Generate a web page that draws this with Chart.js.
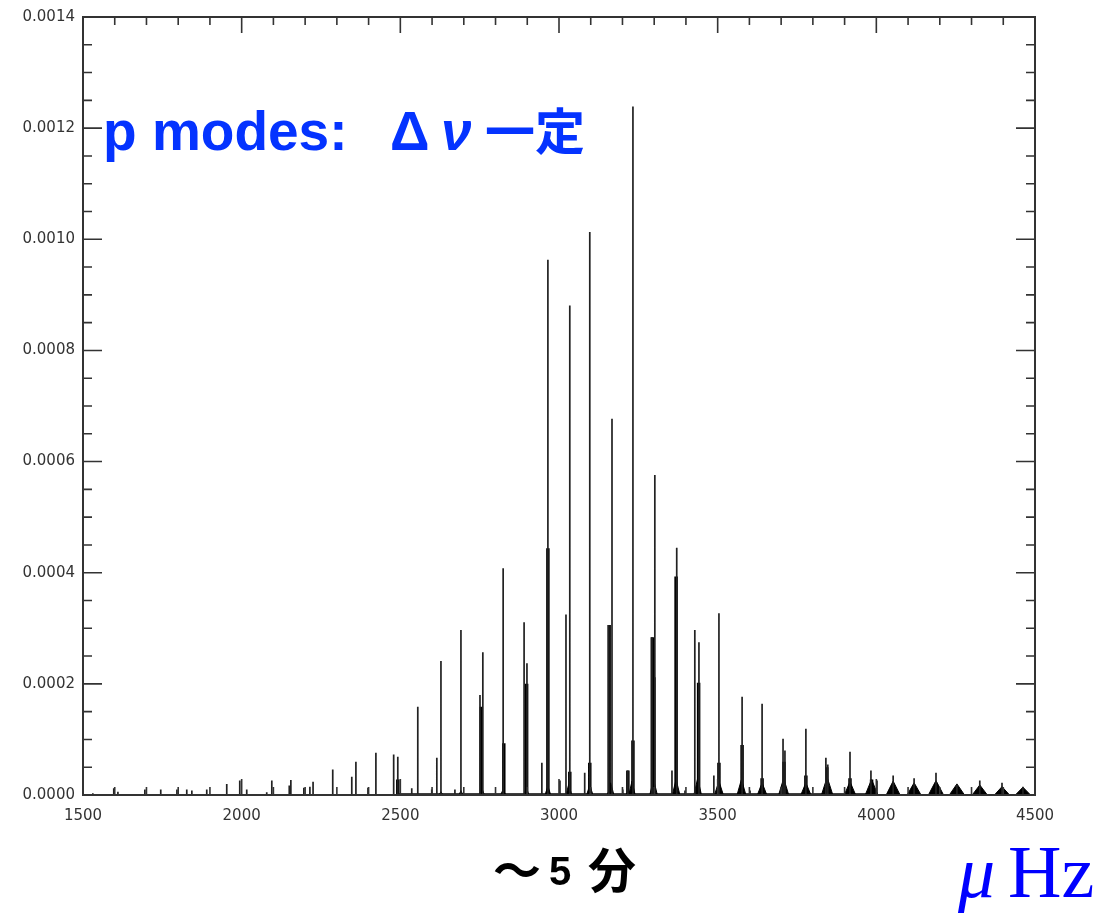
<!DOCTYPE html>
<html><head><meta charset="utf-8">
<script src="https://cdn.jsdelivr.net/npm/chart.js@4.4.1/dist/chart.umd.min.js"></script>
<style>
html,body{margin:0;padding:0;background:#fff;}
#wrap{position:relative;width:1107px;height:918px;overflow:hidden;background:#fff;}
canvas{position:absolute;left:0;top:0;}
.t{position:absolute;white-space:nowrap;}
.blue{color:#0433FF;font-family:"Liberation Sans",Arial,sans-serif;font-weight:bold;font-size:55px;line-height:55px;}
.cjk{font-family:"Noto Sans CJK JP",sans-serif;font-weight:bold;}
.tex{color:#0000FF;font-family:"Liberation Serif","DejaVu Serif",serif;font-size:74px;line-height:74px;}
</style></head><body>
<div id="wrap">
<canvas id="c" width="1107" height="918"></canvas>
<span class="t blue" style="left:103px;top:104px;">p modes:</span>
<span class="t blue" style="left:390px;top:104px;">Δ</span>
<span class="t blue" style="left:441px;top:104px;font-style:italic;">ν</span>
<span class="t blue cjk" style="left:485px;top:103px;font-size:50px;line-height:50px;">一定</span>
<span class="t cjk" style="left:493px;top:843px;font-size:48px;line-height:48px;color:#000;">～</span>
<span class="t" style="left:549px;top:851px;font-family:'Liberation Sans',Arial,sans-serif;font-weight:bold;font-size:40px;line-height:40px;color:#000;">5</span>
<span class="t cjk" style="left:588px;top:843px;font-size:48px;line-height:48px;color:#000;">分</span>
<span class="t tex" style="left:958px;top:835px;font-style:italic;">μ</span>
<span class="t tex" style="left:1008px;top:835px;">Hz</span>
</div>
<script>
// ---- data (frequency in µHz, power) ----
const spikeFreq = [1531,1597,1610,1695,1745,1796,1827,1843,1890,1953,
  1994,2016,2079,2095,2150,2155,2196,2215,2225,2287,
  2347,2360,2398,2423,2479,2492,2536,2555,2599,2615,
  2628,2672,2691,2751,2760,2824,2890,2899,2946,2965,
  3003,3022,3034,3081,3097,3157,3167,3201,3217,3233,
  3293,3302,3356,3371,3397,3428,3441,3488,3504,3577,
  3602,3640,3706,3712,3778,3841,3847,3917,3983,4002,
  4053,4119,4188,4254,4326,4396,4462];
const spikePower = [0.000003,0.000012,0.000006,0.00001,0.00001,0.00001,0.00001,0.000008,0.00001,0.00002,
  0.000026,0.00001,0.000005,0.000026,0.000017,0.000027,0.000013,0.000015,0.000024,0.000046,
  0.000033,0.00006,0.000013,0.000076,0.000073,0.000069,0.000012,0.000159,0.00001,0.000067,
  0.000241,0.00001,0.000297,0.00018,0.000257,0.000408,0.000311,0.000237,0.000058,0.000963,
  0.000026,0.000325,0.000881,0.00004,0.001013,0.000306,0.000677,0.00001,0.000044,0.001239,
  0.000284,0.000576,0.000044,0.000445,0.000008,0.000297,0.000275,0.000035,0.000327,0.000177,
  0.000008,0.000164,0.000101,0.00008,0.000119,0.000067,0.000055,0.000078,0.000044,0.000026,
  0.000035,0.00003,0.00004,0.000019,0.000026,0.000022,0.000015];

const coreFreq = [2492,2755,2826,2898,2965,3034,3097,3158,3217,3233,3294,3299,3369,3440,3504,3577,3640,3709,3778,3844,3917,3985];
const corePower = [0.000028,0.000159,0.000093,0.0002,0.000444,0.000042,0.000058,0.000306,0.000044,0.000098,0.000284,0.000212,0.000393,0.000202,0.000058,0.00009,0.00003,0.00006,0.000035,0.00005,0.00003,0.000028];

const humpFreq = [2628,2691,2757,2824,2897,2965,3031,3097,3163,3230,3298,3369,3437,3504,3575,3640,3708,3778,3845,3917,3985,4053,4119,4188,4254,4326,4396,4462];
const humpPower = [0.000006,0.000008,0.000012,0.00001,0.000014,0.000016,0.00002,0.000018,0.000022,0.000025,0.000028,0.000028,0.00003,0.000025,0.000028,0.000022,0.00003,0.000022,0.000032,0.000024,0.000028,0.000025,0.000022,0.000026,0.00002,0.000018,0.000015,0.000014];
const humpHalfWidth = [6,6,8,8,8,9,9,10,10,10,12,12,12,14,14,15,16,16,18,18,20,22,22,24,24,24,24,24];

const xTickLabels = [1500,2000,2500,3000,3500,4000,4500];
const yTickLabels = [0,0.0002,0.0004,0.0006,0.0008,0.0010,0.0012,0.0014];

// ---- build line tables from the arrays ----
function spikes(fs, ps){
  const out=[];
  fs.forEach((f,i)=>{out.push({x:f,y:0},{x:f,y:ps[i]},{x:f,y:0});});
  return out;
}
function humps(fs, ps, ws){
  const out=[];
  fs.forEach((f,i)=>{out.push({x:f-ws[i],y:0},{x:f,y:ps[i]},{x:f+ws[i],y:0});});
  return out;
}

const boxTicks = {
  id:'boxTicks',
  afterDatasetsDraw(chart){
    const {ctx, chartArea:a, scales:{x,y}} = chart;
    ctx.save();
    ctx.strokeStyle='#333';
    ctx.lineWidth=1.6;
    ctx.beginPath();
    for(let i=0;i<xTickLabels.length;i++){
      const v=xTickLabels[i];
      const px=x.getPixelForValue(v);
      ctx.moveTo(px,a.bottom); ctx.lineTo(px,a.bottom-16);
      ctx.moveTo(px,a.top); ctx.lineTo(px,a.top+16);
      if(i<xTickLabels.length-1){
        const step=(xTickLabels[i+1]-v)/5;
        for(let k=1;k<5;k++){
          const mp=x.getPixelForValue(v+k*step);
          ctx.moveTo(mp,a.bottom); ctx.lineTo(mp,a.bottom-8);
          ctx.moveTo(mp,a.top); ctx.lineTo(mp,a.top+8);
        }
      }
    }
    for(let i=0;i<yTickLabels.length;i++){
      const v=yTickLabels[i];
      const py=y.getPixelForValue(v);
      ctx.moveTo(a.left,py); ctx.lineTo(a.left+19,py);
      ctx.moveTo(a.right,py); ctx.lineTo(a.right-19,py);
      if(i<yTickLabels.length-1){
        const step=(yTickLabels[i+1]-v)/4;
        for(let k=1;k<4;k++){
          const mp=y.getPixelForValue(v+k*step);
          ctx.moveTo(a.left,mp); ctx.lineTo(a.left+9,mp);
          ctx.moveTo(a.right,mp); ctx.lineTo(a.right-9,mp);
        }
      }
    }
    ctx.stroke();
    ctx.lineWidth=2;
    ctx.strokeRect(a.left,a.top,a.right-a.left,a.bottom-a.top);
    ctx.restore();
  }
};

const bg = {id:'bg',beforeDraw(c){const x=c.ctx;x.save();x.fillStyle='#fff';x.fillRect(0,0,c.width,c.height);x.restore();}};

new Chart(document.getElementById('c'),{
  type:'scatter',
  data:{datasets:[
    {label:'spikes',data:spikes(spikeFreq,spikePower),showLine:true,borderColor:'#222',borderWidth:1.7,pointRadius:0,tension:0,fill:false},
    {label:'cores',data:spikes(coreFreq,corePower),showLine:true,borderColor:'#000',borderWidth:3.5,pointRadius:0,tension:0,fill:false},
    {label:'humps',data:humps(humpFreq,humpPower,humpHalfWidth),showLine:true,borderColor:'#000',borderWidth:1,backgroundColor:'#000',pointRadius:0,tension:0,fill:'origin'}
  ]},
  options:{
    responsive:false, animation:false, devicePixelRatio:1,
    layout:{padding:{left:0,right:72,top:14,bottom:92}},
    plugins:{legend:{display:false},tooltip:{enabled:false}},
    scales:{
      x:{type:'linear',min:1500,max:4500,
        afterBuildTicks:s=>{s.ticks=xTickLabels.map(v=>({value:v}));},
        afterFit:s=>{s.height=31;},
        grid:{display:false,drawTicks:false},
        border:{display:false},
        ticks:{padding:12,color:'#333',font:{family:'DejaVu Sans',size:15},maxRotation:0,callback:v=>String(v)}},
      y:{type:'linear',min:0,max:0.0014,
        afterBuildTicks:s=>{s.ticks=yTickLabels.map(v=>({value:v}));},
        afterFit:s=>{s.width=83;},
        grid:{display:false,drawTicks:false},
        border:{display:false},
        ticks:{padding:8,color:'#333',font:{family:'DejaVu Sans',size:15},callback:v=>Number(v).toFixed(4)}}
    }
  },
  plugins:[bg,boxTicks]
});
</script>
</body></html>
